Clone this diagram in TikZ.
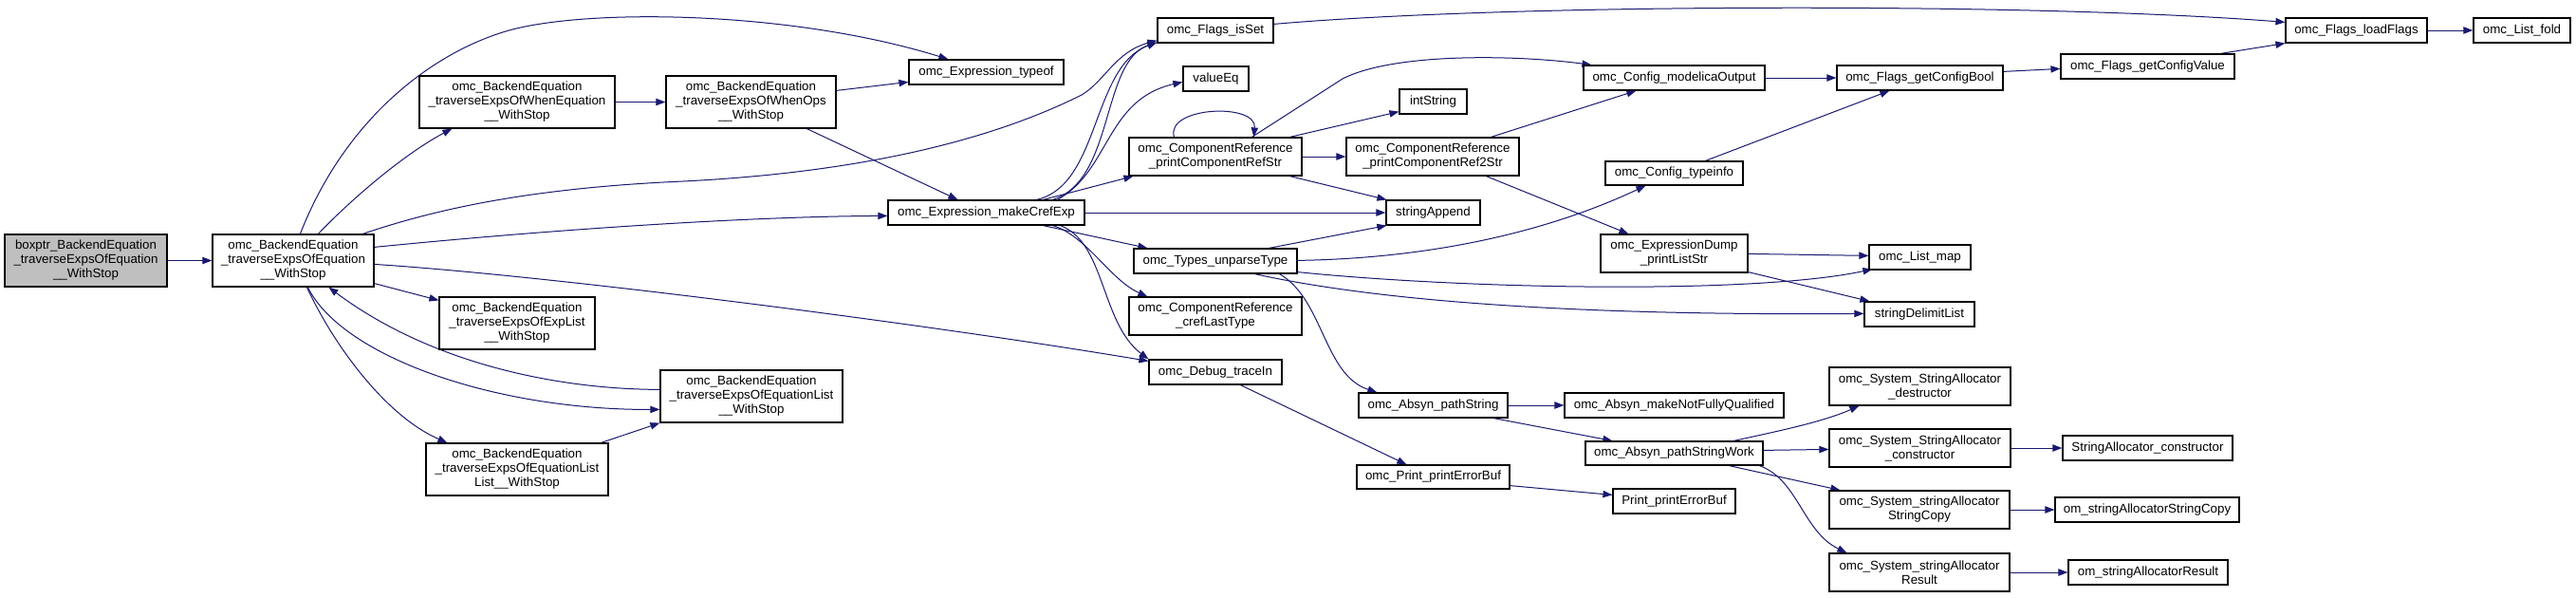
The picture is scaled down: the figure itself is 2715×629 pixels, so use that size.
\documentclass[tikz,border=0pt]{standalone}
\usepackage{fontspec}
\setmainfont{Liberation Sans}
\usetikzlibrary{arrows.meta,calc}
\definecolor{edgecol}{HTML}{191970}
\definecolor{boxgray}{HTML}{BFBFBF}
\pgfdeclarelayer{bg}
\pgfsetlayers{bg,main}
\newcommand{\mkbox}[7][]{\node[box,#1,minimum width={(#5-#4)*0.75pt},minimum height={(#7-#6)*0.75pt}] (#2) at ({(#4+#5)/2},{(#6+#7)/2}) {#3};}
\begin{document}
\begin{tikzpicture}[x=0.75pt,y=-0.75pt,
  box/.style={draw=black, line width=0.9pt, fill=white, inner sep=0pt, align=center, font=\fontsize{10pt}{11.25pt}\selectfont},
  e/.style={draw=edgecol, line width=0.75pt, -{Triangle[length=7.5pt,width=5.5pt]}}]
\useasboundingbox (0,0) rectangle (2715,629);
% nodes
\mkbox[fill=boxgray]{boxptr}{boxptr\_BackendEquation\\\_traverseExpsOfEquation\\\_\_WithStop}{5}{176}{247}{302}
\mkbox{main}{omc\_BackendEquation\\\_traverseExpsOfEquation\\\_\_WithStop}{224}{394}{247}{302}
\mkbox{wheq}{omc\_BackendEquation\\\_traverseExpsOfWhenEquation\\\_\_WithStop}{442}{648}{80}{135}
\mkbox{whops}{omc\_BackendEquation\\\_traverseExpsOfWhenOps\\\_\_WithStop}{702}{881}{80}{135}
\mkbox{explist}{omc\_BackendEquation\\\_traverseExpsOfExpList\\\_\_WithStop}{463}{627}{313}{368}
\mkbox{eqlist}{omc\_BackendEquation\\\_traverseExpsOfEquationList\\\_\_WithStop}{696}{888}{390}{445}
\mkbox{eqll}{omc\_BackendEquation\\\_traverseExpsOfEquationList\\List\_\_WithStop}{449}{641}{467}{522}
\mkbox{typeof}{omc\_Expression\_typeof}{958}{1121}{63}{89}
\mkbox{isset}{omc\_Flags\_isSet}{1220}{1342}{19}{45}
\mkbox{valueeq}{valueEq}{1247}{1316}{70}{96}
\mkbox{mkcref}{omc\_Expression\_makeCrefExp}{936}{1143}{211}{237}
\mkbox{prcrs}{omc\_ComponentReference\\\_printComponentRefStr}{1190}{1372}{145}{185}
\mkbox{crefl}{omc\_ComponentReference\\\_crefLastType}{1190}{1372}{313}{353}
\mkbox{unparse}{omc\_Types\_unparseType}{1195}{1367}{262}{288}
\mkbox{trace}{omc\_Debug\_traceIn}{1211}{1351}{379}{405}
\mkbox{intstr}{intString}{1475}{1546}{94}{120}
\mkbox{ref2}{omc\_ComponentReference\\\_printComponentRef2Str}{1419}{1601}{145}{185}
\mkbox{strapp}{stringAppend}{1461}{1560}{211}{237}
\mkbox{pathstr}{omc\_Absyn\_pathString}{1432}{1589}{414}{440}
\mkbox{pperr}{omc\_Print\_printErrorBuf}{1430}{1591}{490}{515}
\mkbox{modout}{omc\_Config\_modelicaOutput}{1669}{1860}{69}{95}
\mkbox{typeinfo}{omc\_Config\_typeinfo}{1692}{1837}{170}{195}
\mkbox{dumpls}{omc\_ExpressionDump\\\_printListStr}{1687}{1842}{247}{287}
\mkbox{mknfq}{omc\_Absyn\_makeNotFullyQualified}{1649}{1880}{414}{440}
\mkbox{psw}{omc\_Absyn\_pathStringWork}{1671}{1858}{465}{490}
\mkbox{prerr}{Print\_printErrorBuf}{1700}{1829}{515}{541}
\mkbox{cfgbool}{omc\_Flags\_getConfigBool}{1936}{2111}{69}{95}
\mkbox{cfgval}{omc\_Flags\_getConfigValue}{2172}{2355}{57}{83}
\mkbox{lmap}{omc\_List\_map}{1970}{2077}{258}{284}
\mkbox{sdl}{stringDelimitList}{1965}{2081}{318}{344}
\mkbox{sdest}{omc\_System\_StringAllocator\\\_destructor}{1928}{2119}{387}{427}
\mkbox{scons}{omc\_System\_StringAllocator\\\_constructor}{1928}{2119}{452}{492}
\mkbox{sacons}{StringAllocator\_constructor}{2174}{2353}{459}{485}
\mkbox{scopy}{omc\_System\_stringAllocator\\StringCopy}{1928}{2118}{517}{557}
\mkbox{omcopy}{om\_stringAllocatorStringCopy}{2166}{2360}{524}{550}
\mkbox{sres}{omc\_System\_stringAllocator\\Result}{1928}{2118}{583}{623}
\mkbox{omres}{om\_stringAllocatorResult}{2180}{2348}{590}{616}
\mkbox{loadf}{omc\_Flags\_loadFlags}{2409}{2558}{19}{45}
\mkbox{lfold}{omc\_List\_fold}{2607}{2709}{19}{45}
% edges
\begin{pgfonlayer}{bg}
\fill[white] (0,0) rectangle (2715,629);
\draw[e] (boxptr.east) -- (main.west);
\draw[e] ($(main.north west)+(112,0)$) .. controls (375,205) and (430,160) .. ($(wheq.south west)+(35,0)$);
\draw[e] ($(main.north west)+(93,0)$) .. controls (363,127) and (453,57) .. (533,33) .. controls (613,9) and (830,10) .. ($(typeof.north west)+(42,0)$);
\draw[e] (wheq.east) -- (whops.west);
\draw[e] ($(whops.north east)+(0,16)$) -- ($(typeof.north west)+(0,24)$);
\draw[e] ($(whops.south west)+(149,0)$) -- ($(mkcref.north west)+(74,0)$);
\draw[e] ($(main.north west)+(159,0)$) .. controls (460,220) and (560,198) .. (720,191) .. controls (900,182) and (1040,150) .. (1140,100) .. controls (1165,85) and (1175,55) .. ($(isset.south west)+(0,-3)$);
\draw[e] ($(main.north east)+(0,14)$) .. controls (600,240) and (800,228) .. ($(mkcref.north west)+(0,17)$);
\draw[e] ($(main.north east)+(0,32)$) .. controls (600,292) and (1000,345) .. ($(trace.north west)+(0,2)$);
\draw[e] ($(main.south east)+(0,-4)$) -- ($(explist.north west)+(0,4)$);
\draw[e] ($(eqlist.north west)+(0,21)$) .. controls (580,410) and (450,380) .. ($(main.south west)+(123,0)$);
\draw[e] ($(main.south west)+(101,0)$) .. controls (360,375) and (520,432) .. ($(eqlist.north west)+(0,42)$);
\draw[e] ($(main.south west)+(100,0)$) .. controls (355,370) and (410,440) .. ($(eqll.north west)+(23,0)$);
\draw[e] ($(eqll.north east)+(-8,0)$) -- (eqlist.south west);
\draw[e] ($(mkcref.north west)+(157,0)$) .. controls (1160,195) and (1150,70) .. ($(isset.south west)+(0,-1)$);
\draw[e] ($(mkcref.north west)+(174,0)$) .. controls (1175,190) and (1160,65) .. ($(isset.south west)+(0,-1)$);
\draw[e] ($(mkcref.north west)+(179,0)$) .. controls (1170,180) and (1165,105) .. ($(valueeq.north west)+(0,17)$);
\draw[e] ($(mkcref.north west)+(164,0)$) -- ($(prcrs.south west)+(5,0)$);
\draw[e] (mkcref.east) -- (strapp.west);
\draw[e] ($(mkcref.south west)+(164,0)$) -- ($(unparse.north west)+(15,0)$);
\draw[e] ($(mkcref.south west)+(174,0)$) .. controls (1145,248) and (1170,295) .. ($(crefl.north west)+(20,0)$);
\draw[e] ($(mkcref.south west)+(182,0)$) .. controls (1165,255) and (1160,340) .. (trace.north west);
\draw[e] ($(prcrs.north west)+(48,0)$) .. controls (1228,112) and (1325,108) .. ($(prcrs.north west)+(132,0)$);
\draw[e] ($(prcrs.north west)+(130,0)$) -- (1415,83) .. controls (1470,55) and (1600,58) .. ($(modout.north west)+(9,0)$);
\draw[e] ($(prcrs.north west)+(170,0)$) -- ($(intstr.south west)+(0,-3)$);
\draw[e] (prcrs.east) -- (ref2.west);
\draw[e] ($(prcrs.south west)+(170,0)$) -- ($(strapp.north west)+(1,0)$);
\draw[e] ($(ref2.north west)+(153,0)$) -- ($(modout.south west)+(56,0)$);
\draw[e] ($(ref2.south west)+(148,0)$) -- ($(dumpls.north west)+(30,0)$);
\draw[e] ($(unparse.north west)+(143,0)$) -- ($(strapp.south west)+(1,0)$);
\draw[e] ($(unparse.north east)+(0,13)$) .. controls (1520,272) and (1640,240) .. ($(typeinfo.south west)+(43,0)$);
\draw[e] ($(unparse.south east)+(0,-2)$) .. controls (1550,305) and (1850,310) .. ($(lmap.south west)+(4,-1)$);
\draw[e] ($(unparse.south west)+(128,0)$) .. controls (1420,310) and (1600,333) .. ($(sdl.north west)+(0,13)$);
\draw[e] ($(unparse.south west)+(154,0)$) .. controls (1395,315) and (1395,395) .. ($(pathstr.north west)+(20,0)$);
\draw[e] ($(typeinfo.north west)+(106,0)$) -- ($(cfgbool.south west)+(56,0)$);
\draw[e] (modout.east) -- (cfgbool.west);
\draw[e] ($(cfgbool.north east)+(0,7)$) -- ($(cfgval.north west)+(0,16)$);
\draw[e] ($(cfgval.north west)+(169,0)$) -- (loadf.south west);
\draw[e] ($(isset.north east)+(0,7)$) .. controls (1600,3) and (2150,3) .. ($(loadf.north west)+(0,5)$);
\draw[e] (loadf.east) -- (lfold.west);
\draw[e] ($(dumpls.north east)+(0,21)$) -- ($(lmap.north west)+(0,12)$);
\draw[e] ($(dumpls.south east)+(0,-1)$) -- ($(sdl.north west)+(6,0)$);
\draw[e] ($(trace.south west)+(97,0)$) -- ($(pperr.north west)+(53,0)$);
\draw[e] ($(pperr.south east)+(0,-4)$) -- ($(prerr.north west)+(0,7)$);
\draw[e] (pathstr.east) -- (mknfq.west);
\draw[e] ($(pathstr.south west)+(143,0)$) -- ($(psw.north west)+(29,0)$);
\draw[e] ($(psw.north west)+(157,0)$) .. controls (1870,455) and (1920,445) .. ($(sdest.south west)+(32,0)$);
\draw[e] ($(psw.north east)+(0,10)$) -- ($(scons.north west)+(0,22)$);
\draw[e] ($(psw.south west)+(152,0)$) -- ($(scopy.north west)+(12,0)$);
\draw[e] ($(psw.south west)+(184,0)$) .. controls (1895,505) and (1900,560) .. ($(sres.north west)+(19,0)$);
\draw[e] (scons.east) -- (sacons.west);
\draw[e] (scopy.east) -- (omcopy.west);
\draw[e] (sres.east) -- (omres.west);
\end{pgfonlayer}
\end{tikzpicture}
\end{document}
